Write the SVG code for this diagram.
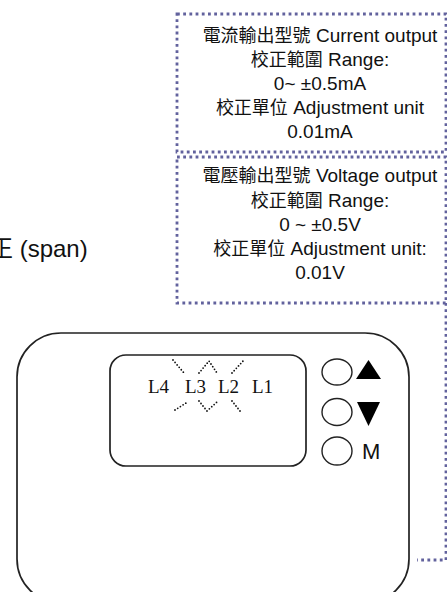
<svg xmlns="http://www.w3.org/2000/svg" width="447" height="592" viewBox="0 0 447 592">
<style>
.dot{fill:none;stroke:#62629d;stroke-width:2.8;stroke-dasharray:2.8 3.4}
.t{font-family:"Liberation Sans",Arial,"Noto Sans CJK TC",sans-serif;font-size:19px;fill:#111;text-anchor:middle}
.cjk{font-family:"Noto Sans CJK TC","Noto Sans CJK SC",sans-serif;font-size:18px}
.dev{fill:#fff;stroke:#222;stroke-width:1.7}
.btn{fill:#fff;stroke:#222;stroke-width:1.4}
.led{font-family:"Liberation Serif","Times New Roman",serif;font-size:19px;fill:#111}
.blink{fill:none;stroke:#111;stroke-width:1.8;stroke-linecap:round;stroke-dasharray:0 3.2}
</style>
<rect width="447" height="592" fill="#fff"/>
<g id="connectors">
<polyline class="dot" points="446,303 446,560 417,560"/>
</g>
<g id="current-box">
<rect class="dot" x="177" y="14" width="269" height="138"/>
<text class="t" x="320" y="42"><tspan class="cjk">電流輸出型號</tspan> Current output</text>
<text class="t" x="320" y="66"><tspan class="cjk">校正範圍</tspan> Range:</text>
<text class="t" x="320" y="90">0~ ±0.5mA</text>
<text class="t" x="320" y="114"><tspan class="cjk">校正單位</tspan> Adjustment unit</text>
<text class="t" x="320" y="138">0.01mA</text>
</g>
<g id="voltage-box">
<rect class="dot" x="177" y="157" width="269" height="146"/>
<text class="t" x="320" y="182"><tspan class="cjk">電壓輸出型號</tspan> Voltage output</text>
<text class="t" x="320" y="207"><tspan class="cjk">校正範圍</tspan> Range:</text>
<text class="t" x="320" y="231">0 ~ ±0.5V</text>
<text class="t" x="320" y="255"><tspan class="cjk">校正單位</tspan> Adjustment unit:</text>
<text class="t" x="320" y="279">0.01V</text>
</g>
<g id="span-label">
<text x="-11" y="257" style="font-family:'Liberation Sans',Arial,'Noto Sans CJK TC',sans-serif;font-size:24px;fill:#111"><tspan style="font-family:'Noto Sans CJK TC',sans-serif">正</tspan> (span)</text>
</g>
<g id="device">
<rect class="dev" x="17" y="333" width="392" height="270" rx="44" ry="44"/>
<rect class="dev" x="110" y="355" width="196" height="111" rx="16" ry="16"/>
<text class="led" x="148" y="393">L4</text>
<text class="led" x="185" y="393">L3</text>
<text class="led" x="218" y="393">L2</text>
<text class="led" x="252" y="393">L1</text>
<path class="blink" d="M173,360 L184,373 M199,373 L209,361 L217,373 M232,373 L244,360 M175,410 L186,403 M199,401 L207,411 L217,402 M232,401 L240,411"/>
</g>
<g id="btn-up">
<ellipse class="btn" cx="337" cy="372" rx="15" ry="13"/>
<polygon points="356,379 381,379 368.5,360" fill="#000"/>
</g>
<g id="btn-down">
<ellipse class="btn" cx="337" cy="412" rx="15" ry="13.5"/>
<polygon points="357,402 380,402 368.5,426" fill="#000"/>
</g>
<g id="btn-mode">
<ellipse class="btn" cx="337" cy="451" rx="15" ry="14"/>
<text x="362" y="459" style="font-family:'Liberation Sans',Arial,sans-serif;font-size:22px;fill:#111">M</text>
</g>
</svg>
